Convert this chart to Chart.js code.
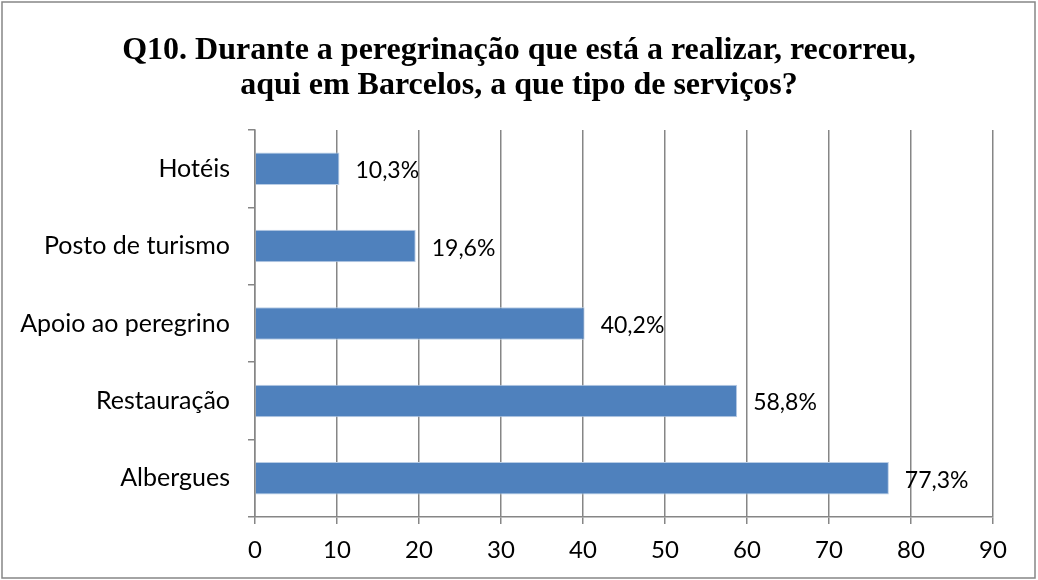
<!DOCTYPE html>
<html>
<head>
<meta charset="utf-8">
<script src="https://cdn.jsdelivr.net/npm/chart.js@4"></script>
<style>
    body { margin: 0; background: #ffffff; }
    canvas { display: block; }
</style>
</head>
<body>
<canvas id="servicesChart" width="1038" height="580"></canvas>
<script>
const categories = ["Hotéis", "Posto de turismo", "Apoio ao peregrino", "Restauração", "Albergues"];
const percentages = [10.3, 19.6, 40.2, 58.8, 77.3];
const titleLines = [
    "Q10. Durante a peregrinação que está a realizar, recorreu,",
    "aqui em Barcelos, a que tipo de serviços?"
];
const axisMax = 90;
const axisStep = 10;

const labelFont = "Lato, 'Open Sans', sans-serif";

// white background, frame and the two title lines
const framePlugin = {
    id: "frame",
    beforeDraw(chart) {
        const ctx = chart.ctx;
        ctx.save();
        ctx.fillStyle = "#ffffff";
        ctx.fillRect(0, 0, chart.width, chart.height);
        ctx.strokeStyle = "#868686";
        ctx.lineWidth = 1.5;
        ctx.strokeRect(2, 2, chart.width - 5, chart.height - 4);

        ctx.fillStyle = "#000000";
        ctx.font = "bold 32px 'Liberation Serif', 'Times New Roman', serif";
        ctx.textAlign = "center";
        ctx.textBaseline = "alphabetic";
        ctx.fillText(titleLines[0], chart.width / 2, 59);
        ctx.fillText(titleLines[1], chart.width / 2, 94);
        ctx.restore();
    }
};

// percentage text after each bar
const valueLabels = {
    id: "valueLabels",
    afterDatasetsDraw(chart) {
        const ctx = chart.ctx;
        const meta = chart.getDatasetMeta(0);
        ctx.save();
        ctx.font = "23px " + labelFont;
        ctx.fillStyle = "#000000";
        ctx.textAlign = "left";
        ctx.textBaseline = "middle";
        meta.data.forEach((bar, i) => {
            const text = percentages[i].toFixed(1).replace(".", ",") + "%";
            ctx.fillText(text, bar.x + 16, bar.y + 2);
        });
        ctx.restore();
    }
};

new Chart("servicesChart", {
    type: "bar",
    data: {
        labels: categories,
        datasets: [{
            label: "Q10",
            data: percentages,
            backgroundColor: "#4f81bd",
            borderColor: "#b9cde5",
            borderWidth: { top: 1, bottom: 1, right: 1, left: 0 },
            borderSkipped: false,
            categoryPercentage: 1,
            barPercentage: 0.42
        }]
    },
    options: {
        indexAxis: "y",
        responsive: false,
        animation: false,
        layout: {
            padding: { left: 0, right: 45, top: 130, bottom: 0 }
        },
        plugins: {
            legend: { display: false },
            tooltip: { enabled: false },
            title: { display: false }
        },
        scales: {
            x: {
                min: 0,
                max: axisMax,
                ticks: {
                    stepSize: axisStep,
                    color: "#000000",
                    font: { family: labelFont, size: 24 },
                    padding: 12
                },
                grid: {
                    color: "#868686",
                    lineWidth: 1.5,
                    drawTicks: true,
                    tickLength: 7
                },
                border: { color: "#868686", width: 1.5 },
                afterFit(scale) { scale.height = 63; }
            },
            y: {
                ticks: {
                    color: "#000000",
                    font: { family: labelFont, size: 25 },
                    padding: 18
                },
                grid: {
                    offset: true,
                    drawOnChartArea: false,
                    color: "#868686",
                    lineWidth: 1.5,
                    tickLength: 7
                },
                border: { color: "#868686", width: 1.5 },
                afterFit(scale) { scale.width = 255; }
            }
        }
    },
    plugins: [framePlugin, valueLabels]
});
</script>
</body>
</html>
